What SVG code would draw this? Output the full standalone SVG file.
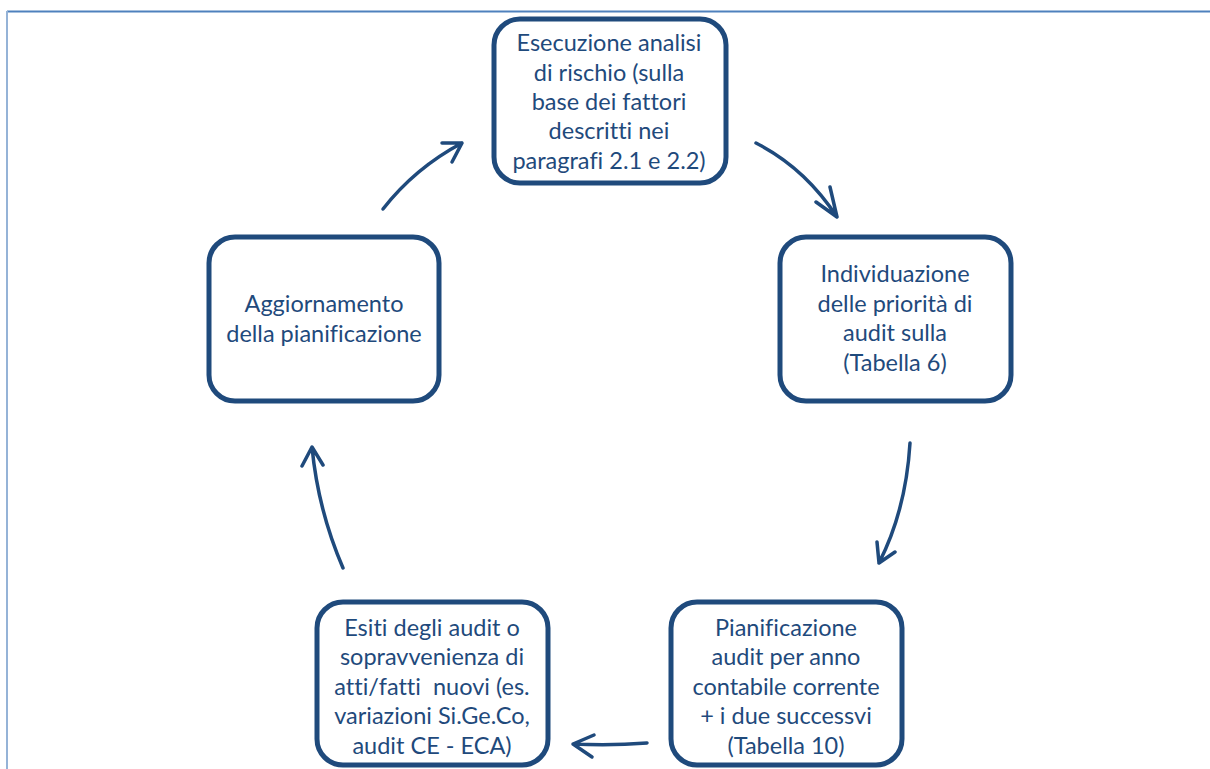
<svg xmlns="http://www.w3.org/2000/svg" width="1210" height="769" viewBox="0 0 1210 769">
<style>
.box{fill:#ffffff;stroke:#1f4a7c;stroke-width:5}
.t{font-family:Lato,"Liberation Sans",sans-serif;font-size:23.5px;fill:#1f4a7c;text-anchor:middle;font-variant-ligatures:none}
.c{fill:none;stroke:#1f4a7c;stroke-width:3.5;stroke-linecap:round;stroke-linejoin:round}
</style>
<rect x="0" y="0" width="1210" height="769" fill="#ffffff"/>
<line x1="7" y1="11.5" x2="1210" y2="11.5" stroke="#4f81bd" stroke-width="2"/>
<line x1="7" y1="11" x2="7" y2="769" stroke="#95b3d7" stroke-width="2"/>
<g id="connectors">
<path class="c" d="M383,209 Q415,168 462,143 M442,143 L462,143 L452,162"/>
<path class="c" d="M756,143 Q805,168 837,217 M816,202 L837,217 L830,187"/>
<path class="c" d="M910,443 Q906,510 879,563 M877,542 L879,563 L895,552"/>
<path class="c" d="M647,743 Q610,746 573,744 M594,735 L573,744 L592,757"/>
<path class="c" d="M343,568 Q318,510 312,447 M302,466 L312,447 L323,465"/>
</g>
<g id="n1">
<rect class="box" x="494" y="19" width="232" height="164" rx="26"/>
<text class="t"><tspan x="609" y="51">Esecuzione analisi</tspan><tspan x="609" y="81">di rischio (sulla</tspan><tspan x="609" y="110">base dei fattori</tspan><tspan x="609" y="139">descritti nei</tspan><tspan x="609" y="169">paragrafi 2.1 e 2.2)</tspan></text>
</g>
<g id="n2">
<rect class="box" x="780" y="237" width="231" height="164" rx="26"/>
<text class="t"><tspan x="895" y="282">Individuazione</tspan><tspan x="895" y="312">delle priorità di</tspan><tspan x="895" y="341">audit sulla</tspan><tspan x="895" y="371">(Tabella 6)</tspan></text>
</g>
<g id="n3">
<rect class="box" x="671" y="602" width="231" height="163" rx="26"/>
<text class="t"><tspan x="786" y="636">Pianificazione</tspan><tspan x="786" y="665">audit per anno</tspan><tspan x="786" y="695">contabile corrente</tspan><tspan x="786" y="724">+ i due successvi</tspan><tspan x="786" y="754">(Tabella 10)</tspan></text>
</g>
<g id="n4">
<rect class="box" x="317" y="602" width="231" height="163" rx="26"/>
<text class="t"><tspan x="432" y="636">Esiti degli audit o</tspan><tspan x="432" y="665">sopravvenienza di</tspan><tspan x="432" y="695" xml:space="preserve">atti/fatti  nuovi (es.</tspan><tspan x="432" y="724">variazioni Si.Ge.Co,</tspan><tspan x="432" y="754">audit CE - ECA)</tspan></text>
</g>
<g id="n5">
<rect class="box" x="209" y="237" width="230" height="164" rx="26"/>
<text class="t"><tspan x="324" y="312">Aggiornamento</tspan><tspan x="324" y="342">della pianificazione</tspan></text>
</g>
</svg>
